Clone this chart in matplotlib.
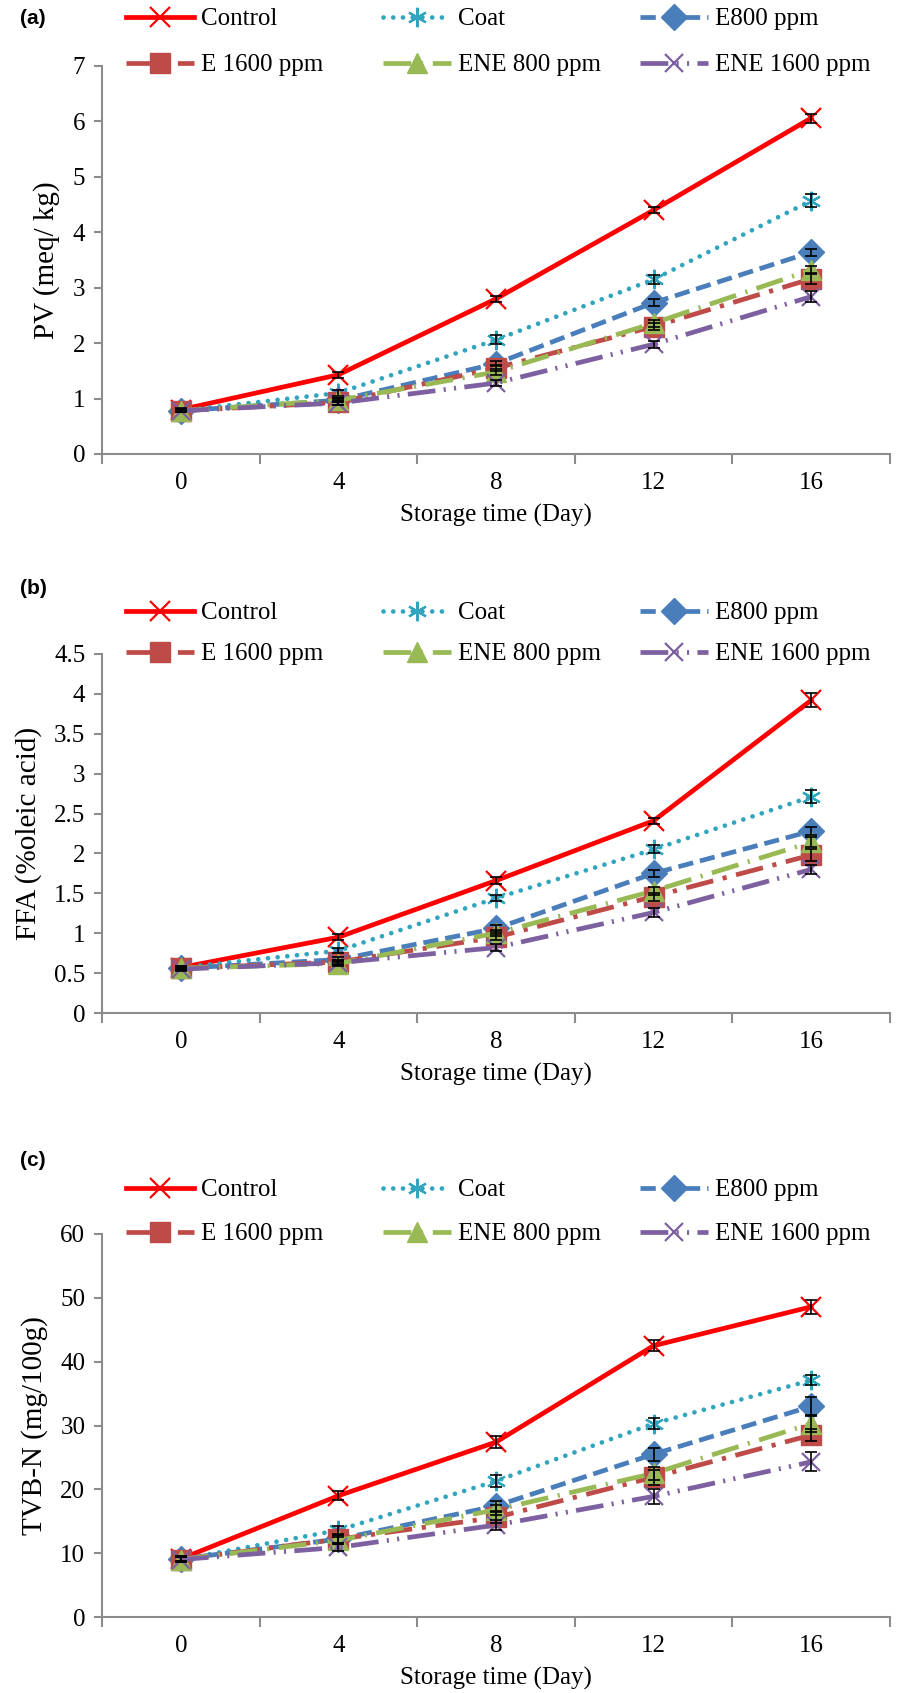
import numpy as np
import matplotlib
matplotlib.use("Agg")
import matplotlib.pyplot as plt
from matplotlib import font_manager

plt.rcParams['font.family'] = 'serif'
plt.rcParams['font.serif'] = ['Liberation Serif', 'DejaVu Serif']
plt.rcParams['lines.scale_dashes'] = False
print(font_manager.findfont('Liberation Serif'))

days = [0, 4, 8, 12, 16]
names = ["Control", "Coat", "E800 ppm", "E 1600 ppm", "ENE 800 ppm", "ENE 1600 ppm"]

# (a) PV
pv_control = [0.80, 1.43, 2.80, 4.40, 6.06]
pv_coat = [0.78, 1.10, 2.06, 3.15, 4.57]
pv_e800 = [0.78, 0.97, 1.63, 2.73, 3.64]
pv_e1600 = [0.78, 0.93, 1.55, 2.30, 3.16]
pv_ene800 = [0.78, 0.97, 1.48, 2.36, 3.32]
pv_ene1600 = [0.78, 0.92, 1.28, 1.98, 2.84]
pv_err = [[0.03, 0.05, 0.05, 0.05, 0.08],
          [0.03, 0.05, 0.08, 0.08, 0.12],
          [0.03, 0.04, 0.05, 0.06, 0.06],
          [0.03, 0.04, 0.05, 0.06, 0.10],
          [0.03, 0.04, 0.05, 0.06, 0.08],
          [0.03, 0.04, 0.05, 0.06, 0.10]]

# (b) FFA
ffa_control = [0.57, 0.95, 1.66, 2.41, 3.92]
ffa_coat = [0.57, 0.78, 1.44, 2.05, 2.71]
ffa_e800 = [0.56, 0.67, 1.06, 1.75, 2.28]
ffa_e1600 = [0.56, 0.64, 0.95, 1.46, 1.98]
ffa_ene800 = [0.56, 0.62, 1.00, 1.53, 2.14]
ffa_ene1600 = [0.55, 0.63, 0.82, 1.26, 1.80]
ffa_err = [[0.02, 0.04, 0.04, 0.04, 0.09],
           [0.02, 0.03, 0.04, 0.05, 0.08],
           [0.02, 0.03, 0.04, 0.04, 0.05],
           [0.02, 0.03, 0.04, 0.05, 0.07],
           [0.02, 0.03, 0.04, 0.05, 0.06],
           [0.02, 0.03, 0.04, 0.06, 0.06]]

# (c) TVB-N
tvbn_control = [9.1, 19.0, 27.4, 42.5, 48.6]
tvbn_coat = [9.0, 13.6, 21.3, 30.3, 37.1]
tvbn_e800 = [9.1, 12.2, 17.4, 25.5, 33.0]
tvbn_e1600 = [9.0, 12.2, 15.6, 21.9, 28.5]
tvbn_ene800 = [9.0, 12.0, 16.8, 22.5, 30.3]
tvbn_ene1600 = [9.0, 10.9, 14.4, 18.9, 24.3]
tvbn_err = [[0.4, 0.7, 0.9, 0.9, 1.1],
            [0.4, 0.6, 0.9, 0.9, 0.8],
            [0.4, 0.6, 0.8, 1.0, 1.5],
            [0.4, 0.6, 0.8, 1.2, 1.0],
            [0.4, 0.6, 0.8, 1.0, 1.3],
            [0.4, 0.6, 0.8, 1.2, 1.5]]

colors = ['#FF0000', '#31A5BE', '#4A7EBB', '#BE4B48', '#98B954', '#7D60A0']
markers = ['x', (6, 2, 0), 'D', 's', '^', 'x']
msizes = [14, 14, 13, 14, 14, 13]
dashes = ['-', (0, (0.01, 7)), (0, (11, 5)), (0, (20, 7, 3, 7)),
          (0, (20, 7, 1.5, 7)), (0, (20, 6, 1.5, 6, 1.5, 6))]
caps = ['butt', 'round', 'butt', 'butt', 'butt', 'butt']

W, H = 901, 1693
fig = plt.figure(figsize=(W / 100, H / 100), dpi=100)

panels = [
    dict(tag='(a)', ys=[pv_control, pv_coat, pv_e800, pv_e1600, pv_ene800, pv_ene1600], err=pv_err,
         ylabel='PV (meq/ kg)', ymax=7, ystep=1, top=66, bottom=454, rows=(19, 65), tagy=19),
    dict(tag='(b)', ys=[ffa_control, ffa_coat, ffa_e800, ffa_e1600, ffa_ene800, ffa_ene1600], err=ffa_err,
         ylabel='FFA (%oleic acid)', ymax=4.5, ystep=0.5, top=654, bottom=1013, rows=(613, 654), tagy=589),
    dict(tag='(c)', ys=[tvbn_control, tvbn_coat, tvbn_e800, tvbn_e1600, tvbn_ene800, tvbn_ene1600], err=tvbn_err,
         ylabel='TVB-N (mg/100g)', ymax=60, ystep=10, top=1234, bottom=1617, rows=(1190, 1234), tagy=1161),
]

x = np.arange(len(days))
left, right = 102, 890
axis_color = '#8C8C8C'

for p in panels:
    ax = fig.add_axes([left / W, 1 - p['bottom'] / H, (right - left) / W, (p['bottom'] - p['top']) / H])
    handles = []
    for i in range(6):
        ax.errorbar(x, p['ys'][i], yerr=p['err'][i], fmt='none', ecolor='black',
                    elinewidth=1.2, capsize=4, capthick=1.2, zorder=3 + i * 0.1)
        ln, = ax.plot(x, p['ys'][i], color=colors[i], lw=3.4, linestyle=dashes[i],
                      dash_capstyle=caps[i], marker=markers[i], markersize=msizes[i],
                      markeredgewidth=1.6 if (markers[i] == 'x' or i == 1) else 1,
                      markeredgecolor=colors[i], zorder=2 + i * 0.1)
        handles.append(ln)
    ax.set_xlim(-0.5, len(days) - 0.5)
    ax.set_ylim(0, p['ymax'])
    ax.set_yticks(np.arange(0, p['ymax'] + p['ystep'] / 2, p['ystep']))
    ax.yaxis.set_major_formatter(matplotlib.ticker.FormatStrFormatter('%g'))
    ax.set_xticks(x)
    ax.set_xticklabels([str(d) for d in days])
    ax.set_xticks(np.arange(-0.5, len(days)), minor=True)
    ax.tick_params(axis='x', which='major', length=0, pad=13, labelsize=18)
    ax.tick_params(axis='x', which='minor', length=7, width=1.5, color=axis_color)
    ax.tick_params(axis='y', length=6, width=1.5, color=axis_color, pad=6, labelsize=18)
    for s in ('top', 'right'):
        ax.spines[s].set_visible(False)
    for s in ('left', 'bottom'):
        ax.spines[s].set_color(axis_color)
        ax.spines[s].set_linewidth(1.5)
    ax.set_xlabel('Storage time (Day)', fontsize=18, labelpad=7)
    ax.set_ylabel(p['ylabel'], fontsize=21, labelpad=9)

    fig.text(20 / W, 1 - p['tagy'] / H, p['tag'], fontsize=15, fontweight='bold',
             family='Liberation Sans', va='center', ha='left')

    # legend laid out as 2 rows x 3 columns
    xs = [126, 383, 640]
    for i in range(6):
        r, c = divmod(i, 3)
        fig.legend([handles[i]], [names[i]], loc='center left',
                   bbox_to_anchor=(xs[c] / W, 1 - p['rows'][r] / H),
                   frameon=False, fontsize=18, handlelength=2.7, handletextpad=0.3,
                   borderpad=0, borderaxespad=0, numpoints=1)

fig.savefig('out.png', dpi=100)
